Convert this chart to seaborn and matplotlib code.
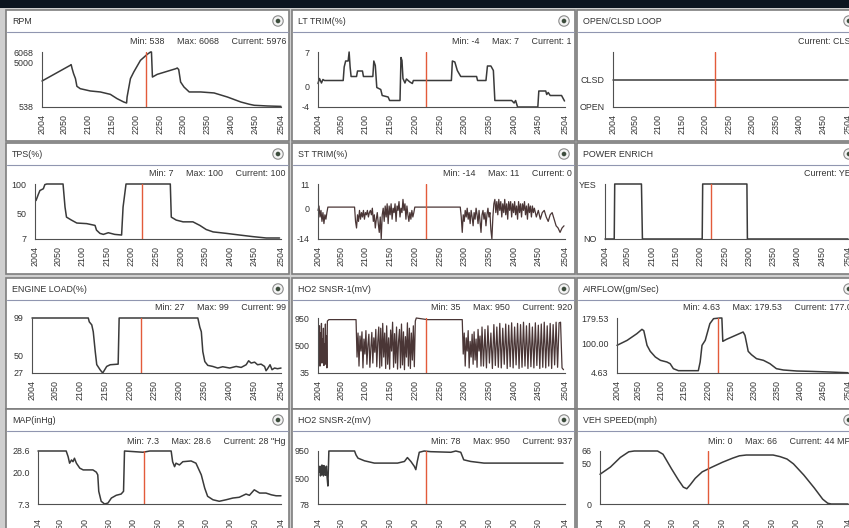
import numpy as np
import matplotlib.pyplot as plt
import seaborn as sns
from matplotlib.patches import Rectangle, Circle
from matplotlib.colors import LinearSegmentedColormap

# ---- data (x = frame number) ----
cursor_t = 2222
x_ticks = [2004, 2050, 2100, 2150, 2200, 2250, 2300, 2350, 2400, 2450, 2504]

rpm_t = [2004, 2063, 2065, 2067, 2070, 2074, 2077, 2084, 2105, 2126, 2147, 2161, 2175, 2181, 2182,
         2189, 2196, 2210, 2224, 2231, 2233, 2235, 2245, 2284, 2287, 2290, 2294, 2301, 2312, 2336,
         2364, 2392, 2420, 2438, 2448, 2476, 2504]
rpm_v = [3150, 4727, 4800, 4400, 3900, 3390, 2620, 2380, 2150, 2050, 1810, 1380, 1040, 940, 1540,
         3390, 4060, 5230, 5830, 6068, 6068, 3550, 3820, 4390, 4460, 4300, 3050, 2550, 2050, 2050,
         1950, 1540, 1040, 810, 710, 640, 600]

lt_t = [2004, 2007, 2011, 2014, 2017, 2055, 2057, 2060, 2065, 2067, 2069, 2071, 2082, 2084, 2094,
        2096, 2115, 2117, 2120, 2123, 2131, 2134, 2146, 2149, 2170, 2172, 2174, 2176, 2180, 2183,
        2190, 2195, 2197, 2274, 2276, 2281, 2286, 2293, 2325, 2327, 2344, 2347, 2354, 2359, 2362,
        2396, 2401, 2404, 2408, 2449, 2451, 2465, 2467, 2470, 2474, 2497, 2503]
lt_v = [0.7, 1.7, 0.8, 1.5, 1.3, 1.3, 4.0, 5.2, 5.2, 7.0, 4.0, 2.1, 2.1, 3.2, 3.2,
        2.1, 2.1, 5.2, 4.3, -0.1, -0.5, -1.7, -2.0, -2.7, -2.7, 5.9, 5.3, 1.7, 0.8, 1.6,
        1.0, 0.7, 1.3, 1.3, 5.2, 5.0, 3.3, 2.1, 2.1, 1.3, 1.3, 4.2, 4.2, 3.3, -2.7,
        -2.7, -3.2, -2.7, -4.0, -4.0, -0.8, -0.8, -1.5, -1.1, -1.7, -1.7, -2.8]

loop_t = [2004, 2504]
loop_v = [1, 1]

tps_t = [2006, 2011, 2014, 2021, 2024, 2028, 2061, 2065, 2068, 2078, 2089, 2109, 2126, 2129, 2136,
         2143, 2153, 2166, 2180, 2183, 2189, 2279, 2281, 2291, 2305, 2325, 2339, 2352, 2366, 2393,
         2420, 2447, 2474, 2501]
tps_v = [72, 83, 89, 92, 99, 100, 100, 61, 44, 39, 34, 33, 30, 22, 16.5,
         14.8, 17.6, 14.8, 13.7, 61, 100, 100, 44, 39, 36, 36, 30, 23, 19, 16.5,
         13.7, 11, 8.7, 8.7]

# ST TRIM: noisy stretches sampled every 2 (last one every 4) frames, joined by flat runs
st_noise1 = [-1, 1, -4, -1, -6, -2, -7, -3, -5, -2]
st_noise2 = [-6, -9, -3, -6, -1, -5, -2, -4, -1, -5, -2, -3, -1, -4, -2, -1, -3, 0, -6, -3,
             -9, -5, -2, -7, -11, -4, -14, -3, 0, -6, 1, -4, 2, -7, 1, -3, 2, -5, 0, -2,
             2, -6, 1, -1, 3, -4, 0, -2, 4, -1, 2, -5, 1, -3, -6, -2, -5, -1, -4, -2]
st_noise3 = [-4, -11, -3, -6, -1, -4, 0, -5, -2, -7, -1, -4, -8, -2, -5, 0, -3, -7, -1, -6,
             -11, -3, -1, -5, -2, -8, -3, 0, -4, -2, -10, -14, -4, 2]
st_noise4 = [4, -2, 3, -3, 4, -1, 3, -4, 2, -2, 4, -3, 2, -5, 3, -1, 3, -4, 2, -2,
             3, -3, 1, -5, 3, -2, 2, -4, 2, -1, 3, -3, 1, -5, 2, -2, 1, -4, 1, -2, 0]
st_noise5 = [-4, -1, -5, -2, -1, -4, -6, -3, -2, -5, -8, -9, -11, -9, -8]

pe_t = [2004, 2023, 2024, 2079, 2081, 2204, 2205, 2296, 2297, 2504]
pe_v = [0, 0, 1, 1, 0, 0, 1, 1, 0, 0]

el_t = [2004, 2117, 2119, 2124, 2127, 2131, 2134, 2141, 2146, 2154, 2161, 2177, 2179, 2337, 2341,
        2344, 2347, 2351, 2357, 2367, 2377, 2387, 2401, 2414, 2424, 2434, 2439, 2444, 2451, 2457,
        2464, 2471, 2474, 2477, 2482, 2486, 2491, 2497, 2504]
el_v = [99, 99, 94, 90, 81, 55, 38, 31, 27, 35.6, 37.8, 38.6, 99, 99, 87,
        81, 55, 42, 37, 35.6, 33.5, 35.2, 33.5, 35.6, 34.3, 37.8, 43, 40, 41.2, 37.8,
        38.6, 35.6, 30, 32.6, 37.8, 31.3, 33.5, 32.6, 33.5]

# HO2 sensor 1: switching stretches
o2a_noise = [450, 820, 150, 700, 380, 860, 200, 600, 420, 780, 160, 520, 300, 850, 180, 650, 120, 900]
o2b_noise = [300, 700, 150, 650, 400, 720, 120, 600, 350, 740, 180, 500, 680, 130, 450, 710, 200, 620,
             380, 760, 140, 560, 800, 120, 780, 150, 860, 300, 700, 110, 820, 180, 620, 100, 750, 400,
             880, 130, 690, 200, 800, 100, 560, 760, 120, 850, 170, 720, 90, 640, 300, 870, 150, 780,
             110, 700, 250, 820, 140, 900]
o2c_noise = [350, 700, 150, 620, 400, 740, 120, 560, 300, 680, 180, 720, 250, 600, 130, 760, 400, 650,
             150, 800]
o2d_noise = [150, 760, 120, 820, 200, 700, 110, 840, 160, 800, 130, 860, 120, 780, 180, 850, 110, 830,
             140, 870, 120, 800, 170, 860, 110, 840, 130, 880, 150, 820, 110, 860, 140, 800, 120, 870,
             160, 830, 110, 850, 130, 880, 120, 820, 150, 860, 110, 840, 170, 880, 130, 870, 880, 120, 90]

af_t = [2004, 2026, 2047, 2058, 2062, 2069, 2076, 2087, 2098, 2112, 2119, 2126, 2137, 2180, 2184,
        2188, 2195, 2205, 2213, 2227, 2231, 2233, 2241, 2277, 2281, 2288, 2295, 2306, 2321, 2335,
        2349, 2364, 2393, 2421, 2464, 2504]
af_v = [92.6, 108.5, 129.7, 143.5, 139.2, 92.6, 73.5, 55.5, 44.9, 39.6, 34.3, 18.4, 12, 12, 39.6,
        92.6, 108.5, 161.5, 177.4, 179.53, 179.5, 105.3, 111.7, 135, 124.4, 73.5, 62.9, 50.2, 44.9, 34.3,
        18.4, 14.2, 11, 9.9, 7.8, 5.5]

map_t = [2004, 2062, 2066, 2069, 2073, 2076, 2079, 2083, 2090, 2097, 2117, 2124, 2127, 2129, 2134,
         2141, 2148, 2155, 2165, 2175, 2180, 2182, 2220, 2234, 2278, 2281, 2285, 2288, 2295, 2302,
         2319, 2329, 2340, 2347, 2353, 2364, 2377, 2391, 2405, 2418, 2432, 2439, 2449, 2460, 2473,
         2484, 2494, 2504]
map_v = [28.6, 28.6, 26.3, 23.7, 25.0, 24.3, 25.7, 23.7, 21.7, 21.0, 21.0, 20.1, 19.0, 12.4, 8.4,
         7.3, 7.7, 9.7, 10.8, 11.3, 12.4, 28.6, 28.1, 28.6, 28.6, 24.3, 22.3, 23.7, 23.0, 24.3,
         24.6, 23.7, 19.0, 13.7, 10.4, 9.0, 8.4, 9.0, 9.7, 10.0, 11.3, 10.8, 13.0, 11.7, 11.7,
         11.0, 10.6, 10.6]

o2s2_t = [2007, 2008, 2009, 2010, 2011, 2012, 2013, 2014, 2015, 2016, 2017, 2018, 2019, 2020, 2021,
          2022, 2024, 2026, 2078, 2081, 2085, 2098, 2118, 2138, 2165, 2179, 2185, 2192, 2199, 2202,
          2205, 2209, 2219, 2232, 2273, 2283, 2293, 2299, 2313, 2340, 2407, 2500]
o2s2_v = [600, 700, 540, 690, 560, 720, 580, 650, 540, 710, 600, 680, 550, 620, 700,
          560, 374, 950, 950, 885, 832, 789, 751, 751, 751, 778, 842, 778, 697, 643,
          778, 929, 950, 939, 929, 950, 929, 805, 778, 751, 751, 751]

vs_t = [2004, 2025, 2045, 2062, 2073, 2120, 2131, 2148, 2162, 2172, 2179, 2186, 2196, 2210, 2230,
        2251, 2271, 2285, 2299, 2353, 2367, 2381, 2394, 2415, 2436, 2453, 2463, 2470, 2504]
vs_v = [37, 46, 58, 65, 66, 66, 62, 44, 30, 21, 19, 24, 32, 40, 46,
        52, 57, 60, 61, 61, 59, 56, 50, 36, 20, 6, 1, 0, 0]


def frames(start, step, values):
    return list(range(start, start + step * len(values), step))


st_t = (frames(2004, 2, st_noise1) + [2024, 2078] + frames(2080, 2, st_noise2) + [2200, 2292]
        + frames(2294, 2, st_noise3) + frames(2362, 2, st_noise4) + frames(2446, 4, st_noise5))
st_v = st_noise1 + [0.5, 0.5] + st_noise2 + [0.5, 0.5] + st_noise3 + st_noise4 + st_noise5

o2s1_t = (frames(2006, 1, o2a_noise) + [2026, 2081] + frames(2083, 2, o2b_noise) + [2203, 2225, 2296]
          + frames(2298, 2, o2c_noise) + frames(2339, 3, o2d_noise))
o2s1_v = o2a_noise + [923, 923] + o2b_noise + [950, 923, 923] + o2c_noise + o2d_noise

# ---- layout (pixels) ----
W, H = 849, 528
col_left = [6, 292, 577]
col_axis_right = [281, 565, 848]
header_top = [11, 144, 279, 410]
axis_top = [52, 184, 318, 451]
axis_bot = [107, 239, 373, 504]

panels = [
    ("RPM", rpm_t, rpm_v, [538, 5000, 6068], ["538", "5000", "6068"],
     "Min: 538     Max: 6068     Current: 5976", 42, False),
    ("LT TRIM(%)", lt_t, lt_v, [-4, 0, 7], ["-4", "0", "7"],
     "Min: -4     Max: 7     Current: 1", 318, False),
    ("OPEN/CLSD LOOP", loop_t, loop_v, [0, 1, 2], ["OPEN", "CLSD", ""],
     "Current: CLSD", 613, False),
    ("TPS(%)", tps_t, tps_v, [7, 50, 100], ["7", "50", "100"],
     "Min: 7     Max: 100     Current: 100", 35, False),
    ("ST TRIM(%)", st_t, st_v, [-14, 0, 11], ["-14", "0", "11"],
     "Min: -14     Max: 11     Current: 0", 318, True),
    ("POWER ENRICH", pe_t, pe_v, [0, 1], ["NO", "YES"],
     "Current: YES", 605, False),
    ("ENGINE LOAD(%)", el_t, el_v, [27, 50, 99], ["27", "50", "99"],
     "Min: 27     Max: 99     Current: 99", 32, False),
    ("HO2 SNSR-1(mV)", o2s1_t, o2s1_v, [35, 500, 950], ["35", "500", "950"],
     "Min: 35     Max: 950     Current: 920", 318, True),
    ("AIRFLOW(gm/Sec)", af_t, af_v, [4.63, 100.0, 179.53], ["4.63", "100.00", "179.53"],
     "Min: 4.63     Max: 179.53     Current: 177.07", 617, False),
    ("MAP(inHg)", map_t, map_v, [7.3, 20.0, 28.6], ["7.3", "20.0", "28.6"],
     "Min: 7.3     Max: 28.6     Current: 28 \"Hg", 38, False),
    ("HO2 SNSR-2(mV)", o2s2_t, o2s2_v, [78, 500, 950], ["78", "500", "950"],
     "Min: 78     Max: 950     Current: 937", 318, False),
    ("VEH SPEED(mph)", vs_t, vs_v, [0, 50, 66], ["0", "50", "66"],
     "Min: 0     Max: 66     Current: 44 MPH", 600, False),
]

sns.set_style("white")
plt.rcParams["font.family"] = ["Liberation Sans", "DejaVu Sans"]
FS = 6.4
TXT = "#333333"

fig = plt.figure(figsize=(W / 100, H / 100), dpi=100)
fig.patch.set_facecolor("#cfcfcf")

bg = fig.add_axes([0, 0, 1, 1])
bg.axis("off")
head_cmap = LinearSegmentedColormap.from_list("head", ["#f3f4f9", "#d9dcea", "#b3b9d3"])
grad = np.linspace(0, 1, 32).reshape(-1, 1)

bg.add_patch(Rectangle((0, 0), W, 8, facecolor="#0c1520", edgecolor="none"))

for i, (title, t, v, yt, ytl, stats, ax_left, noisy) in enumerate(panels):
    r, c = divmod(i, 3)
    x0 = col_left[c]
    y0 = header_top[r]
    pw = 283
    bg.add_patch(Rectangle((x0, y0 - 1), pw, 131, facecolor="white", edgecolor="#7e7e7e", lw=1.2))
    bg.imshow(grad, extent=(x0 + 1, x0 + pw - 1, y0 + 20, y0), cmap=head_cmap, aspect="auto",
              interpolation="bilinear")
    bg.plot([x0 + 1, x0 + pw - 1], [y0 + 20.5, y0 + 20.5], color="#9096b0", lw=0.8)
    bg.text(x0 + 6, y0 + 10.5, title, va="center", ha="left", fontsize=FS, color=TXT)
    bg.add_patch(Circle((x0 + pw - 11, y0 + 10), 5.2, facecolor="#f4f4f4", edgecolor="#8c8c8c", lw=0.8))
    bg.add_patch(Circle((x0 + pw - 11, y0 + 10), 2.3, facecolor="#3d4d3d", edgecolor="none"))
    bg.text(x0 + pw - 3, axis_top[r] - 10, stats, va="center", ha="right", fontsize=FS, color=TXT)

    ax = fig.add_axes([ax_left / W, 1 - axis_bot[r] / H,
                       (col_axis_right[c] - ax_left) / W, (axis_bot[r] - axis_top[r]) / H])
    ax.patch.set_alpha(0)
    sns.lineplot(x=t, y=v, ax=ax, color="#4a3636" if noisy else "#3a3a3a",
                 lw=0.9 if noisy else 1.1, estimator=None, sort=False, legend=False)
    ax.lines[-1].set_clip_on(False)
    ax.axvline(cursor_t, color="#e35b3a", lw=1.0)
    ax.set_xlim(2004, 2504)
    ax.set_ylim(yt[0], yt[-1])
    ax.set_xticks(x_ticks)
    ax.set_xticklabels([str(x) for x in x_ticks], rotation=90, fontsize=FS, color=TXT)
    ax.set_yticks(yt)
    ax.set_yticklabels(ytl, fontsize=FS, color=TXT)
    ax.set_xlabel("")
    ax.set_ylabel("")
    for side in ["top", "right"]:
        ax.spines[side].set_visible(False)
    for side in ["left", "bottom"]:
        ax.spines[side].set_color("#505050")
        ax.spines[side].set_linewidth(0.8)
    ax.tick_params(axis="x", direction="inout", length=4, width=0.6, color="#505050",
                   pad=8 if r == 3 else 3)
    ax.tick_params(axis="y", direction="out", length=4, width=0.6, color="#505050", pad=2)

bg.set_xlim(0, W)
bg.set_ylim(H, 0)

fig.savefig("out.png", dpi=100, facecolor=fig.get_facecolor())
